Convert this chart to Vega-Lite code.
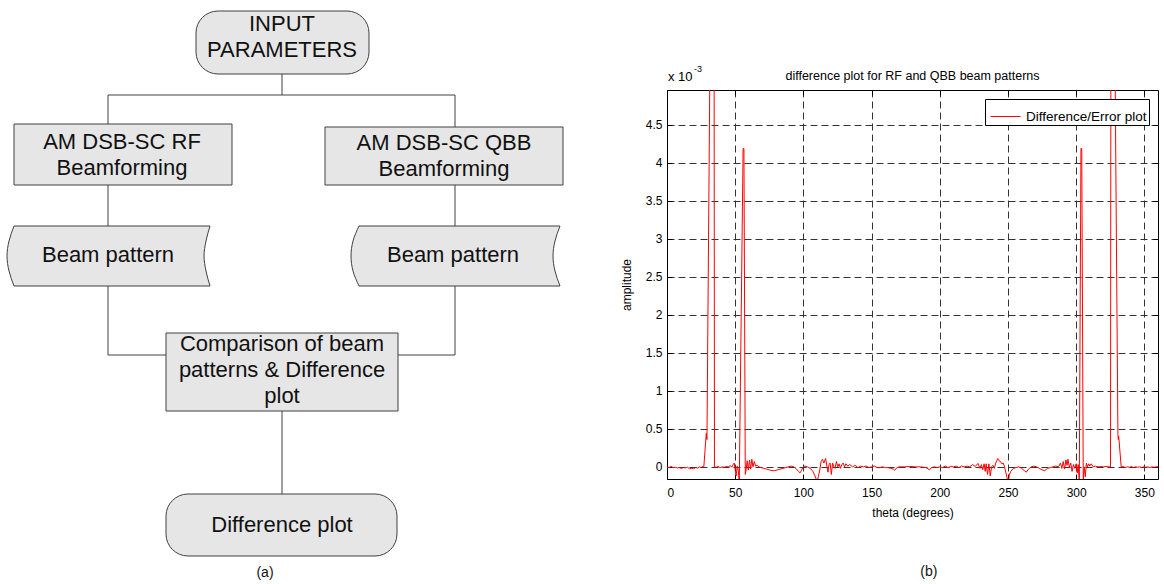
{
  "$schema": "https://vega.github.io/schema/vega-lite/v6.json",
  "background": "white",
  "padding": {"top": 10, "left": 0, "right": 0, "bottom": 0},
  "spacing": 20,
  "resolve": {"scale": {"color": "independent"}, "legend": {"color": "independent"}},
  "config": {
    "view": {"stroke": null},
    "font": "Liberation Sans",
    "axis": {"domainColor": "black", "tickColor": "black", "labelColor": "black", "titleColor": "black", "labelFontSize": 12, "titleFontSize": 12, "titleFontWeight": "normal", "gridColor": "#333333", "gridDash": [7, 4], "gridOpacity": 1, "gridWidth": 1, "labelFont": "Liberation Sans", "titleFont": "Liberation Sans", "domainWidth": 1, "tickWidth": 1},
    "legend": {"labelFont": "Liberation Sans", "labelColor": "black"}
  },
  "datasets": {
    "stores": [
      {"shape": "L", "y": 226, "xl": 14, "xr": 210},
      {"shape": "L", "y": 241, "xl": 9, "xr": 206},
      {"shape": "L", "y": 256, "xl": 7, "xr": 204},
      {"shape": "L", "y": 271, "xl": 9, "xr": 206},
      {"shape": "L", "y": 286, "xl": 14, "xr": 210},
      {"shape": "R", "y": 226, "xl": 359, "xr": 560},
      {"shape": "R", "y": 241, "xl": 353, "xr": 555},
      {"shape": "R", "y": 256, "xl": 351, "xr": 553},
      {"shape": "R", "y": 271, "xl": 353, "xr": 555},
      {"shape": "R", "y": 286, "xl": 359, "xr": 560}
    ],
    "links": [
      {"x0": 282, "x1": 282, "y0": 74, "y1": 95},
      {"x0": 108, "x1": 455, "y0": 95, "y1": 95},
      {"x0": 108, "x1": 108, "y0": 95, "y1": 124},
      {"x0": 455, "x1": 455, "y0": 95, "y1": 127},
      {"x0": 108, "x1": 108, "y0": 185, "y1": 226},
      {"x0": 455, "x1": 455, "y0": 185, "y1": 226},
      {"x0": 108, "x1": 108, "y0": 286, "y1": 355},
      {"x0": 455, "x1": 455, "y0": 286, "y1": 355},
      {"x0": 108, "x1": 166, "y0": 355, "y1": 355},
      {"x0": 398, "x1": 455, "y0": 355, "y1": 355},
      {"x0": 282, "x1": 282, "y0": 411, "y1": 494}
    ],
    "boxes": [
      {"x0": 14, "x1": 232, "y0": 124, "y1": 185},
      {"x0": 325, "x1": 563, "y0": 127, "y1": 185},
      {"x0": 166, "x1": 398, "y0": 333, "y1": 411}
    ],
    "terms": [
      {"x0": 196, "x1": 369, "y0": 11, "y1": 74},
      {"x0": 166, "x1": 397, "y0": 494, "y1": 556}
    ],
    "labels": [
      {"t": "INPUT\nPARAMETERS", "x": 282, "y": 24},
      {"t": "AM DSB-SC RF\nBeamforming", "x": 122, "y": 142},
      {"t": "AM DSB-SC QBB\nBeamforming", "x": 444, "y": 143},
      {"t": "Beam pattern", "x": 108, "y": 255},
      {"t": "Beam pattern", "x": 453, "y": 255},
      {"t": "Comparison of beam\npatterns & Difference\nplot", "x": 282, "y": 344},
      {"t": "Difference plot", "x": 282, "y": 525}
    ],
    "diff": [
      {"theta": 0, "amp": 0}, {"theta": 1.5, "amp": -0.01}, {"theta": 3, "amp": 0.005}, {"theta": 4.5, "amp": -0.01},
      {"theta": 6, "amp": -0.005}, {"theta": 7.5, "amp": -0.015}, {"theta": 9, "amp": -0.01}, {"theta": 10.5, "amp": -0.02},
      {"theta": 12, "amp": -0.01}, {"theta": 13.5, "amp": -0.015}, {"theta": 15, "amp": -0.005}, {"theta": 16.5, "amp": -0.025},
      {"theta": 18, "amp": -0.02}, {"theta": 19.5, "amp": -0.025}, {"theta": 21, "amp": -0.01}, {"theta": 22.5, "amp": -0.015},
      {"theta": 24, "amp": 0}, {"theta": 25, "amp": -0.01}, {"theta": 26, "amp": 0.005}, {"theta": 27, "amp": 0},
      {"theta": 28.8, "amp": 0.44}, {"theta": 29.3, "amp": 0.36}, {"theta": 32, "amp": 6.5}, {"theta": 34.5, "amp": 6.5},
      {"theta": 34.8, "amp": 0}, {"theta": 36, "amp": -0.005}, {"theta": 37.5, "amp": 0.005}, {"theta": 39, "amp": -0.01},
      {"theta": 40.5, "amp": 0}, {"theta": 42, "amp": -0.005}, {"theta": 43.5, "amp": 0.005}, {"theta": 45, "amp": 0},
      {"theta": 46.5, "amp": 0.015}, {"theta": 47.5, "amp": -0.005}, {"theta": 48.5, "amp": 0.03}, {"theta": 49.3, "amp": 0.05},
      {"theta": 50, "amp": -0.04}, {"theta": 50.7, "amp": -0.12}, {"theta": 51.5, "amp": 0.01}, {"theta": 52.3, "amp": -0.05},
      {"theta": 53, "amp": -0.2}, {"theta": 55.8, "amp": 4.19}, {"theta": 56.4, "amp": 4.19}, {"theta": 57.4, "amp": -0.1},
      {"theta": 58, "amp": -0.04}, {"theta": 58.8, "amp": 0.08}, {"theta": 59.6, "amp": -0.04}, {"theta": 60.5, "amp": 0.09},
      {"theta": 61.3, "amp": -0.03}, {"theta": 62.2, "amp": 0.1}, {"theta": 63, "amp": 0}, {"theta": 64, "amp": 0.07},
      {"theta": 65, "amp": 0.01}, {"theta": 66, "amp": 0.02}, {"theta": 67.5, "amp": 0}, {"theta": 69, "amp": -0.01},
      {"theta": 71, "amp": -0.02}, {"theta": 73, "amp": -0.03}, {"theta": 75, "amp": -0.04}, {"theta": 77, "amp": -0.05},
      {"theta": 79, "amp": -0.05}, {"theta": 81, "amp": -0.04}, {"theta": 83, "amp": -0.03}, {"theta": 85, "amp": -0.02},
      {"theta": 87, "amp": -0.01}, {"theta": 89, "amp": 0}, {"theta": 91, "amp": 0.01}, {"theta": 93, "amp": 0},
      {"theta": 95, "amp": -0.03}, {"theta": 96.5, "amp": -0.06}, {"theta": 97.5, "amp": -0.08}, {"theta": 98.5, "amp": -0.05},
      {"theta": 99.5, "amp": -0.01}, {"theta": 101, "amp": 0.01}, {"theta": 103, "amp": 0}, {"theta": 105, "amp": -0.02},
      {"theta": 107, "amp": -0.06}, {"theta": 108.5, "amp": -0.12}, {"theta": 110, "amp": -0.19}, {"theta": 111, "amp": -0.13},
      {"theta": 112, "amp": -0.04}, {"theta": 113, "amp": 0.07}, {"theta": 114, "amp": 0.1}, {"theta": 115, "amp": 0.05},
      {"theta": 116.3, "amp": 0.11}, {"theta": 117.2, "amp": 0.01}, {"theta": 118, "amp": -0.07}, {"theta": 118.8, "amp": 0.03},
      {"theta": 119.6, "amp": 0.05}, {"theta": 120.5, "amp": -0.1}, {"theta": 121.4, "amp": 0.05}, {"theta": 122.3, "amp": 0},
      {"theta": 123.2, "amp": -0.02}, {"theta": 124.2, "amp": 0.07}, {"theta": 125.2, "amp": 0}, {"theta": 126.2, "amp": 0.04},
      {"theta": 127.2, "amp": -0.02}, {"theta": 128.2, "amp": 0.03}, {"theta": 129.2, "amp": 0.05}, {"theta": 130.2, "amp": 0},
      {"theta": 131.2, "amp": 0.04}, {"theta": 132.5, "amp": 0.01}, {"theta": 134, "amp": 0.03}, {"theta": 136, "amp": 0},
      {"theta": 138, "amp": 0.02}, {"theta": 140, "amp": -0.01}, {"theta": 142, "amp": 0.01}, {"theta": 144, "amp": 0},
      {"theta": 146, "amp": 0.01}, {"theta": 148, "amp": -0.01}, {"theta": 150, "amp": 0}, {"theta": 152, "amp": 0.01},
      {"theta": 154, "amp": -0.01}, {"theta": 156, "amp": -0.01}, {"theta": 158, "amp": 0}, {"theta": 160, "amp": -0.01},
      {"theta": 162, "amp": -0.01}, {"theta": 164, "amp": -0.02}, {"theta": 166, "amp": -0.03}, {"theta": 167, "amp": -0.045},
      {"theta": 168, "amp": -0.02}, {"theta": 170, "amp": 0}, {"theta": 174, "amp": 0}, {"theta": 178, "amp": 0.005},
      {"theta": 182, "amp": 0}, {"theta": 186, "amp": 0}, {"theta": 190, "amp": -0.01}, {"theta": 192.5, "amp": -0.04},
      {"theta": 194, "amp": -0.01}, {"theta": 196, "amp": 0}, {"theta": 198, "amp": -0.01}, {"theta": 200, "amp": 0},
      {"theta": 202, "amp": -0.01}, {"theta": 204, "amp": 0.01}, {"theta": 206, "amp": -0.01}, {"theta": 208, "amp": 0.005},
      {"theta": 210, "amp": 0}, {"theta": 212, "amp": 0.01}, {"theta": 214, "amp": -0.01}, {"theta": 216, "amp": 0.01},
      {"theta": 218, "amp": 0}, {"theta": 220, "amp": 0.01}, {"theta": 222, "amp": 0}, {"theta": 224, "amp": 0.03},
      {"theta": 226, "amp": 0.005}, {"theta": 228, "amp": 0.045}, {"theta": 229.5, "amp": -0.02}, {"theta": 230.5, "amp": 0.03},
      {"theta": 231.5, "amp": -0.04}, {"theta": 232.5, "amp": 0.04}, {"theta": 233.3, "amp": -0.06}, {"theta": 234, "amp": 0.04},
      {"theta": 235, "amp": -0.1}, {"theta": 236, "amp": 0.04}, {"theta": 237, "amp": -0.12}, {"theta": 238, "amp": 0},
      {"theta": 239, "amp": 0.02}, {"theta": 240, "amp": -0.02}, {"theta": 241, "amp": 0.05}, {"theta": 242.5, "amp": 0.11},
      {"theta": 243.5, "amp": 0.08}, {"theta": 244.5, "amp": 0.07}, {"theta": 245.5, "amp": 0.04}, {"theta": 246.5, "amp": 0.05},
      {"theta": 247.5, "amp": 0}, {"theta": 248.5, "amp": -0.08}, {"theta": 249.5, "amp": -0.16}, {"theta": 250.3, "amp": -0.2},
      {"theta": 251, "amp": -0.11}, {"theta": 252, "amp": -0.06}, {"theta": 254, "amp": -0.02}, {"theta": 256, "amp": -0.01},
      {"theta": 258, "amp": 0}, {"theta": 260, "amp": -0.02}, {"theta": 262, "amp": -0.05}, {"theta": 263.5, "amp": -0.07},
      {"theta": 265, "amp": -0.03}, {"theta": 267, "amp": 0}, {"theta": 269, "amp": 0.01}, {"theta": 271, "amp": 0},
      {"theta": 273, "amp": -0.02}, {"theta": 275, "amp": -0.04}, {"theta": 277, "amp": -0.05}, {"theta": 279, "amp": -0.02},
      {"theta": 281, "amp": -0.01}, {"theta": 283, "amp": 0}, {"theta": 285, "amp": 0.01}, {"theta": 287, "amp": 0},
      {"theta": 288.5, "amp": 0.05}, {"theta": 289.5, "amp": -0.02}, {"theta": 290.5, "amp": 0.07}, {"theta": 291.5, "amp": -0.03},
      {"theta": 292.5, "amp": 0.09}, {"theta": 293.3, "amp": 0.02}, {"theta": 294, "amp": 0.1}, {"theta": 295, "amp": -0.01},
      {"theta": 296, "amp": 0.05}, {"theta": 297, "amp": -0.06}, {"theta": 298, "amp": 0.03}, {"theta": 299, "amp": -0.02},
      {"theta": 300, "amp": 0.04}, {"theta": 300.8, "amp": -0.08}, {"theta": 301.5, "amp": 0.03}, {"theta": 302.3, "amp": -0.2},
      {"theta": 303.5, "amp": 4.19}, {"theta": 304.1, "amp": 4.19}, {"theta": 305.2, "amp": -0.2}, {"theta": 305.9, "amp": 0},
      {"theta": 306.7, "amp": -0.13}, {"theta": 307.5, "amp": 0.05}, {"theta": 308.3, "amp": 0}, {"theta": 309.2, "amp": 0.04},
      {"theta": 310, "amp": 0.01}, {"theta": 311, "amp": 0.04}, {"theta": 312.5, "amp": 0}, {"theta": 314, "amp": 0.01},
      {"theta": 316, "amp": 0}, {"theta": 318, "amp": 0.005}, {"theta": 320, "amp": 0}, {"theta": 322, "amp": 0.005},
      {"theta": 324, "amp": 0}, {"theta": 325.2, "amp": 0}, {"theta": 325.5, "amp": 6.5}, {"theta": 328, "amp": 6.5},
      {"theta": 330.6, "amp": 0.44}, {"theta": 330.9, "amp": 0.36}, {"theta": 331.2, "amp": 0.4}, {"theta": 333, "amp": 0},
      {"theta": 334.5, "amp": 0.005}, {"theta": 336, "amp": -0.01}, {"theta": 337.5, "amp": 0}, {"theta": 339, "amp": -0.005},
      {"theta": 340.5, "amp": 0.005}, {"theta": 342, "amp": -0.01}, {"theta": 343.5, "amp": 0}, {"theta": 345, "amp": -0.005},
      {"theta": 346.5, "amp": 0}, {"theta": 348, "amp": -0.01}, {"theta": 349.5, "amp": 0}, {"theta": 351, "amp": -0.005},
      {"theta": 352.5, "amp": 0}, {"theta": 354, "amp": -0.01}, {"theta": 355.5, "amp": 0}, {"theta": 357, "amp": -0.005},
      {"theta": 358.5, "amp": 0}, {"theta": 360, "amp": 0}
    ]
  },
  "hconcat": [
    {
      "width": 600,
      "height": 389,
      "layer": [
        {
          "data": {"name": "stores"},
          "mark": {"type": "area", "orient": "horizontal", "interpolate": "monotone", "fill": "#e6e6e6", "fillOpacity": 1, "stroke": "#404040", "strokeWidth": 1},
          "encoding": {
            "y": {"field": "y", "type": "quantitative", "scale": {"domain": [90, 479], "reverse": true, "nice": false, "zero": false}, "axis": null},
            "x": {"field": "xl", "type": "quantitative", "scale": {"domain": [0, 600], "nice": false, "zero": false}, "axis": null},
            "x2": {"field": "xr"},
            "detail": {"field": "shape", "type": "nominal"}
          }
        },
        {
          "data": {"name": "links"},
          "mark": {"type": "rule", "color": "#404040", "strokeWidth": 1},
          "encoding": {
            "x": {"field": "x0", "type": "quantitative"},
            "x2": {"field": "x1"},
            "y": {"field": "y0", "type": "quantitative"},
            "y2": {"field": "y1"}
          }
        },
        {
          "data": {"name": "boxes"},
          "mark": {"type": "rect", "fill": "#e6e6e6", "stroke": "#404040", "strokeWidth": 1},
          "encoding": {
            "x": {"field": "x0", "type": "quantitative"},
            "x2": {"field": "x1"},
            "y": {"field": "y0", "type": "quantitative"},
            "y2": {"field": "y1"}
          }
        },
        {
          "data": {"name": "terms"},
          "mark": {"type": "rect", "cornerRadius": 22, "fill": "#e6e6e6", "stroke": "#404040", "strokeWidth": 1},
          "encoding": {
            "x": {"field": "x0", "type": "quantitative"},
            "x2": {"field": "x1"},
            "y": {"field": "y0", "type": "quantitative"},
            "y2": {"field": "y1"}
          }
        },
        {
          "data": {"name": "labels"},
          "mark": {"type": "text", "fontSize": 22, "lineBreak": "\n", "lineHeight": 26, "align": "center", "baseline": "middle", "color": "#111111", "font": "Liberation Sans"},
          "encoding": {
            "x": {"field": "x", "type": "quantitative"},
            "y": {"field": "y", "type": "quantitative"},
            "text": {"field": "t"}
          }
        },
        {
          "data": {"values": [{"t": "(a)", "x": 265, "y": 573}]},
          "mark": {"type": "text", "fontSize": 14, "align": "center", "baseline": "middle", "color": "#111111", "font": "Liberation Sans"},
          "encoding": {
            "x": {"field": "x", "type": "quantitative"},
            "y": {"field": "y", "type": "quantitative"},
            "text": {"field": "t"}
          }
        }
      ]
    },
    {
      "width": 491,
      "height": 389,
      "title": {"text": "difference plot for RF and QBB beam patterns", "fontSize": 12.5, "fontWeight": "normal", "font": "Liberation Sans", "color": "black", "offset": -17},
      "layer": [
        {
          "data": {"name": "diff"},
          "mark": {"type": "line", "strokeWidth": 1, "clip": true},
          "encoding": {
            "x": {"field": "theta", "type": "quantitative", "scale": {"domain": [0, 360], "nice": false, "zero": false},
              "axis": {"orient": "bottom", "title": "theta (degrees)", "values": [0, 50, 100, 150, 200, 250, 300, 350], "grid": true, "tickSize": -5, "labelPadding": 13, "titlePadding": 9}},
            "y": {"field": "amp", "type": "quantitative", "scale": {"domain": [-0.16, 4.96], "nice": false, "zero": false},
              "axis": {"orient": "left", "title": "amplitude", "values": [0, 0.5, 1, 1.5, 2, 2.5, 3, 3.5, 4, 4.5], "format": "~g", "grid": true, "tickSize": -5, "labelPadding": 10, "titlePadding": 12}},
            "color": {"datum": "Difference/Error plot", "type": "nominal", "scale": {"range": ["#ff0000"]},
              "legend": {"title": null, "orient": "none", "legendX": 318, "legendY": 9, "symbolType": "stroke", "symbolSize": 900, "symbolStrokeWidth": 1, "symbolStrokeColor": "#ff0000", "symbolOffset": 3, "strokeColor": "black", "fillColor": "white", "padding": 2, "labelFontSize": 13.5, "labelOffset": 5}}
          }
        },
        {
          "data": {"values": [{}]},
          "mark": {"type": "text", "text": "x 10", "align": "left", "baseline": "alphabetic", "dx": 1, "dy": -9, "fontSize": 13, "font": "Liberation Sans", "color": "black"},
          "encoding": {
            "x": {"datum": 0, "type": "quantitative", "axis": {"orient": "top", "labels": false, "title": null, "grid": false, "values": [0, 50, 100, 150, 200, 250, 300, 350], "tickSize": -5}},
            "y": {"datum": 4.96, "type": "quantitative", "axis": {"orient": "right", "labels": false, "title": null, "grid": false, "values": [0, 0.5, 1, 1.5, 2, 2.5, 3, 3.5, 4, 4.5], "tickSize": -5}}
          }
        },
        {
          "data": {"values": [{}]},
          "mark": {"type": "text", "text": "-3", "align": "left", "baseline": "alphabetic", "dx": 27, "dy": -18, "fontSize": 9, "font": "Liberation Sans", "color": "black"},
          "encoding": {
            "x": {"datum": 0, "type": "quantitative", "axis": null},
            "y": {"datum": 4.96, "type": "quantitative", "axis": null}
          }
        },
        {
          "data": {"values": [{}]},
          "mark": {"type": "text", "text": "(b)", "align": "center", "baseline": "middle", "fontSize": 14, "font": "Liberation Sans", "color": "#111111"},
          "encoding": {
            "x": {"datum": 192, "type": "quantitative", "axis": null},
            "y": {"datum": -1.39, "type": "quantitative", "axis": null}
          }
        }
      ],
      "resolve": {"axis": {"x": "independent", "y": "independent"}}
    }
  ]
}
